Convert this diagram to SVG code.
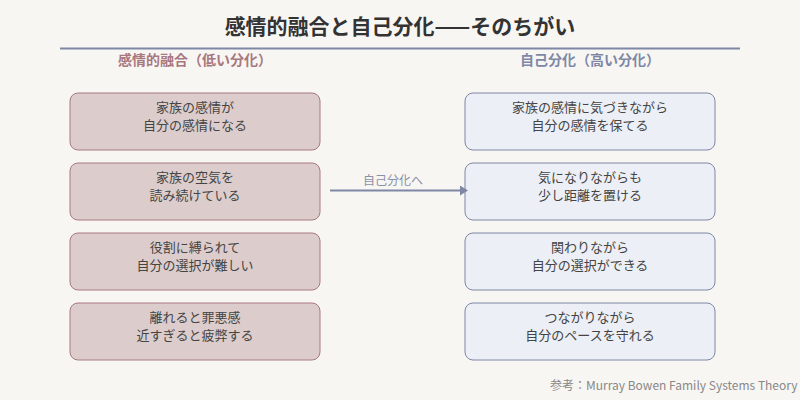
<svg xmlns="http://www.w3.org/2000/svg" width="800" height="400" viewBox="0 0 800 400">
<defs>
<style>
text{font-family:"Noto Sans CJK JP","Noto Sans",sans-serif;text-anchor:middle}
.l{fill:#dccdcc;stroke:#a87880;stroke-width:1}
.r{fill:#eceff5;stroke:#7e88a6;stroke-width:1}
.t{font-size:13px;fill:#444}
</style>
<marker id="a" markerWidth="8" markerHeight="10" refX="1" refY="5" orient="auto" markerUnits="userSpaceOnUse"><path d="M0,0L8,5L0,10z" fill="#7e88a6"/></marker>
</defs>
<rect width="800" height="400" fill="#f8f6f3"/>
<text x="400" y="34" font-size="21" font-weight="bold" fill="#333">感情的融合と自己分化——そのちがい</text>
<line x1="60" y1="48.5" x2="740" y2="48.5" stroke="#7e88a6" stroke-width="2"/>
<text x="195" y="65" font-size="14" font-weight="bold" fill="#a87880">感情的融合（低い分化）</text>
<text x="590" y="65" font-size="14" font-weight="bold" fill="#7e88a6">自己分化（高い分化）</text>
<g id="l1"><rect class="l" x="70" y="93" width="250" height="57" rx="8"/><text class="t" x="195" y="112">家族の感情が</text><text class="t" x="195" y="130">自分の感情になる</text></g>
<g id="l2"><rect class="l" x="70" y="163" width="250" height="57" rx="8"/><text class="t" x="195" y="182">家族の空気を</text><text class="t" x="195" y="200">読み続けている</text></g>
<g id="l3"><rect class="l" x="70" y="233" width="250" height="57" rx="8"/><text class="t" x="195" y="252">役割に縛られて</text><text class="t" x="195" y="270">自分の選択が難しい</text></g>
<g id="l4"><rect class="l" x="70" y="303" width="250" height="57" rx="8"/><text class="t" x="195" y="322">離れると罪悪感</text><text class="t" x="195" y="340">近すぎると疲弊する</text></g>
<g id="r1"><rect class="r" x="465" y="93" width="250" height="57" rx="8"/><text class="t" x="590" y="112">家族の感情に気づきながら</text><text class="t" x="590" y="130">自分の感情を保てる</text></g>
<g id="r2"><rect class="r" x="465" y="163" width="250" height="57" rx="8"/><text class="t" x="590" y="182">気になりながらも</text><text class="t" x="590" y="200">少し距離を置ける</text></g>
<g id="r3"><rect class="r" x="465" y="233" width="250" height="57" rx="8"/><text class="t" x="590" y="252">関わりながら</text><text class="t" x="590" y="270">自分の選択ができる</text></g>
<g id="r4"><rect class="r" x="465" y="303" width="250" height="57" rx="8"/><text class="t" x="590" y="322">つながりながら</text><text class="t" x="590" y="340">自分のペースを守れる</text></g>
<g id="connectors"><line x1="330" y1="190.5" x2="461" y2="190.5" stroke="#7e88a6" stroke-width="2" marker-end="url(#a)"/>
<text x="393" y="185" font-size="12" fill="#8a90a8">自己分化へ</text></g>
<text x="550" y="390" font-size="12" fill="#888" style="text-anchor:start">参考：Murray Bowen Family Systems Theory</text>
</svg>
